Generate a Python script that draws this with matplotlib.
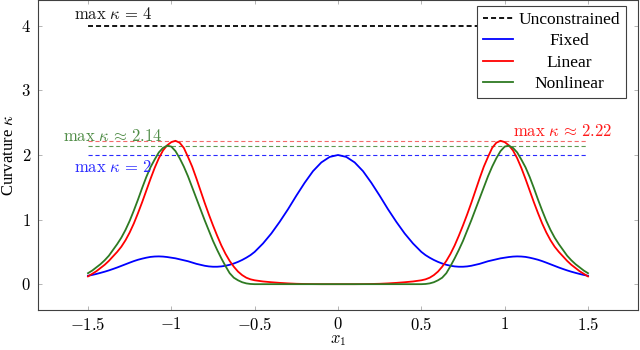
import matplotlib
matplotlib.use("Agg")
import matplotlib.pyplot as plt
from matplotlib.lines import Line2D

# ---------------- data ----------------
x1 = [-1.5, -1.475, -1.45, -1.425, -1.4, -1.375, -1.35, -1.325, -1.3, -1.275,
      -1.25, -1.225, -1.2, -1.175, -1.15, -1.125, -1.1, -1.075, -1.05, -1.025,
      -1.0, -0.975, -0.95, -0.925, -0.9, -0.875, -0.85, -0.825, -0.8, -0.775,
      -0.75, -0.725, -0.7, -0.675, -0.65, -0.625, -0.6, -0.575, -0.55, -0.525,
      -0.5, -0.45, -0.4, -0.35, -0.3, -0.25, -0.2, -0.15, -0.1, -0.05,
      0.0,
      0.05, 0.1, 0.15, 0.2, 0.25, 0.3, 0.35, 0.4, 0.45, 0.5,
      0.525, 0.55, 0.575, 0.6, 0.625, 0.65, 0.675, 0.7, 0.725, 0.75,
      0.775, 0.8, 0.825, 0.85, 0.875, 0.9, 0.925, 0.95, 0.975, 1.0,
      1.025, 1.05, 1.075, 1.1, 1.125, 1.15, 1.175, 1.2, 1.225, 1.25,
      1.275, 1.3, 1.325, 1.35, 1.375, 1.4, 1.425, 1.45, 1.475, 1.5]

fixed = [0.13, 0.143, 0.158, 0.175, 0.193, 0.213, 0.235, 0.258, 0.283, 0.308,
         0.333, 0.357, 0.378, 0.395, 0.41, 0.422, 0.428, 0.43, 0.427, 0.42,
         0.41, 0.40, 0.385, 0.37, 0.355, 0.335, 0.315, 0.30, 0.285, 0.275,
         0.27, 0.27, 0.275, 0.285, 0.30, 0.32, 0.345, 0.375, 0.41, 0.45,
         0.50, 0.63, 0.785, 0.965, 1.16, 1.37, 1.57, 1.75, 1.885, 1.97,
         2.00,
         1.97, 1.885, 1.75, 1.57, 1.37, 1.16, 0.965, 0.785, 0.63, 0.50,
         0.45, 0.41, 0.375, 0.345, 0.32, 0.30, 0.285, 0.275, 0.27, 0.27,
         0.275, 0.285, 0.30, 0.315, 0.335, 0.355, 0.37, 0.385, 0.40, 0.41,
         0.42, 0.427, 0.43, 0.428, 0.422, 0.41, 0.395, 0.378, 0.357, 0.333,
         0.308, 0.283, 0.258, 0.235, 0.213, 0.193, 0.175, 0.158, 0.143, 0.13]

linear = [0.12, 0.16, 0.20, 0.25, 0.30, 0.36, 0.43, 0.50, 0.58, 0.68,
          0.80, 0.94, 1.10, 1.27, 1.45, 1.63, 1.80, 1.95, 2.07, 2.15,
          2.20, 2.22, 2.19, 2.11, 1.97, 1.82, 1.64, 1.45, 1.26, 1.08,
          0.91, 0.75, 0.60, 0.47, 0.36, 0.27, 0.195, 0.14, 0.10, 0.075,
          0.06, 0.042, 0.03, 0.02, 0.012, 0.006, 0.003, 0.001, 0.0, 0.0,
          0.0,
          0.0, 0.0, 0.001, 0.003, 0.006, 0.012, 0.02, 0.03, 0.042, 0.06,
          0.075, 0.10, 0.14, 0.195, 0.27, 0.36, 0.47, 0.60, 0.75, 0.91,
          1.08, 1.26, 1.45, 1.64, 1.82, 1.97, 2.11, 2.19, 2.22, 2.20,
          2.15, 2.07, 1.95, 1.80, 1.63, 1.45, 1.27, 1.10, 0.94, 0.80,
          0.68, 0.58, 0.50, 0.43, 0.36, 0.30, 0.25, 0.20, 0.16, 0.12]

nonlinear = [0.17, 0.21, 0.26, 0.31, 0.37, 0.44, 0.53, 0.62, 0.72, 0.84,
             0.98, 1.14, 1.31, 1.49, 1.66, 1.81, 1.93, 2.04, 2.11, 2.145,
             2.13, 2.06, 1.95, 1.82, 1.67, 1.50, 1.33, 1.16, 0.99, 0.83,
             0.67, 0.53, 0.40, 0.28, 0.17, 0.10, 0.06, 0.03, 0.012, 0.003,
             0.0, 0.0, 0.0, 0.0, 0.0, 0.0, 0.0, 0.0, 0.0, 0.0,
             0.0,
             0.0, 0.0, 0.0, 0.0, 0.0, 0.0, 0.0, 0.0, 0.0, 0.0,
             0.003, 0.012, 0.03, 0.06, 0.10, 0.17, 0.28, 0.40, 0.53, 0.67,
             0.83, 0.99, 1.16, 1.33, 1.50, 1.67, 1.82, 1.95, 2.06, 2.13,
             2.145, 2.11, 2.04, 1.93, 1.81, 1.66, 1.49, 1.31, 1.14, 0.98,
             0.84, 0.72, 0.62, 0.53, 0.44, 0.37, 0.31, 0.26, 0.21, 0.17]

x_range = [-1.5, 1.5]
max_unconstrained = 4
max_fixed = 2
max_linear = 2.22
max_nonlinear = 2.14

series_labels = ["Unconstrained", "Fixed", "Linear", "Nonlinear"]
annot_texts = [r"$\max\;\kappa\,=\,4$", r"$\max\;\kappa\,=\,2$",
               r"$\max\;\kappa\,\approx\,2.22$", r"$\max\;\kappa\,\approx\,2.14$"]

xticks = [-1.5, -1.0, -0.5, 0.0, 0.5, 1.0, 1.5]
xtick_labels = [r"$-1.5$", r"$-1$", r"$-0.5$", r"$0$", r"$0.5$", r"$1$", r"$1.5$"]
yticks = [0, 1, 2, 3, 4]
ytick_labels = [r"$0$", r"$1$", r"$2$", r"$3$", r"$4$"]

# ---------------- style ----------------
plt.rcParams["font.family"] = "serif"
plt.rcParams["font.serif"] = ["Liberation Serif", "DejaVu Serif"]
plt.rcParams["mathtext.fontset"] = "cm"
plt.rcParams["axes.unicode_minus"] = False
plt.rcParams["lines.scale_dashes"] = False

BLUE = "#0000ff"
RED = "#ff0000"
GREEN = "#2e7a22"

fig = plt.figure(figsize=(6.4, 3.5), dpi=100)
ax = fig.add_axes([38 / 640, 40 / 350, 600 / 640, 310 / 350])

# reference lines
ax.hlines(max_unconstrained, x_range[0], x_range[1], colors="black", lw=1.3,
          linestyles=(0, (3.6, 2.2)), zorder=2)
ax.hlines(max_fixed, x_range[0], x_range[1], colors="#2a2aff", lw=0.8,
          linestyles=(0, (3.0, 2.0)), zorder=1)
ax.hlines(max_linear, x_range[0], x_range[1], colors="#f26a6a", lw=0.8,
          linestyles=(0, (3.0, 2.0)), zorder=1)
ax.hlines(max_nonlinear, x_range[0], x_range[1], colors="#5e9a52", lw=0.8,
          linestyles=(0, (3.0, 2.0)), zorder=1)

# curves
ax.plot(x1, fixed, color=BLUE, lw=1.3, zorder=3, solid_joinstyle="round")
ax.plot(x1, linear, color=RED, lw=1.3, zorder=3, solid_joinstyle="round")
ax.plot(x1, nonlinear, color=GREEN, lw=1.3, zorder=3, solid_joinstyle="round")

# annotations
ax.text(-1.35, 4.11, annot_texts[0], color="#1a1a1a", fontsize=12, ha="center", va="baseline")
ax.text(-1.35, 1.73, annot_texts[1], color="#2a2aff", fontsize=12, ha="center", va="baseline")
ax.text(1.35, 2.30, annot_texts[2], color="#ff1a1a", fontsize=12, ha="center", va="baseline")
ax.text(-1.35, 2.21, annot_texts[3], color="#4f8c46", fontsize=12, ha="center", va="baseline")

# axes
ax.set_xlim(-1.8, 1.8)
ax.set_ylim(-0.4, 4.4)
ax.set_xticks(xticks)
ax.set_xticklabels(xtick_labels, fontsize=12)
ax.set_yticks(yticks)
ax.set_yticklabels(ytick_labels, fontsize=12)
ax.tick_params(direction="in", length=3, width=0.6, color="#a8a8a8",
               top=True, right=True, labelcolor="black", pad=5)
for s in ax.spines.values():
    s.set_color("#404040")
    s.set_linewidth(0.8)

ax.set_xlabel(r"$x_1$", fontsize=12)
ax.xaxis.set_label_coords(0.5, -0.07)
ax.set_ylabel(r"Curvature $\kappa$", fontsize=12)
ax.yaxis.set_label_coords(-0.035, 0.5)

handles = [
    Line2D([], [], color="black", lw=1.3, linestyle=(0, (3.6, 2.2))),
    Line2D([], [], color=BLUE, lw=1.3),
    Line2D([], [], color=RED, lw=1.3),
    Line2D([], [], color=GREEN, lw=1.3),
]
leg = ax.legend(handles, series_labels, loc="upper right",
                bbox_to_anchor=((626 - 38) / 600, (310 - 5.7) / 310),
                borderaxespad=0, fontsize=12.5, fancybox=False, framealpha=1,
                edgecolor="#404040", handlelength=1.75, handletextpad=0.3,
                labelspacing=0.3, borderpad=0.35)
leg.get_frame().set_linewidth(0.8)

# center legend labels within their column
fig.canvas.draw()
r = fig.canvas.get_renderer()
texts = leg.get_texts()
ws = [t.get_window_extent(r).width for t in texts]
mw = max(ws)
for t, w in zip(texts, ws):
    t.set_x((mw - w) / 2)

fig.savefig("out.png", dpi=100)
